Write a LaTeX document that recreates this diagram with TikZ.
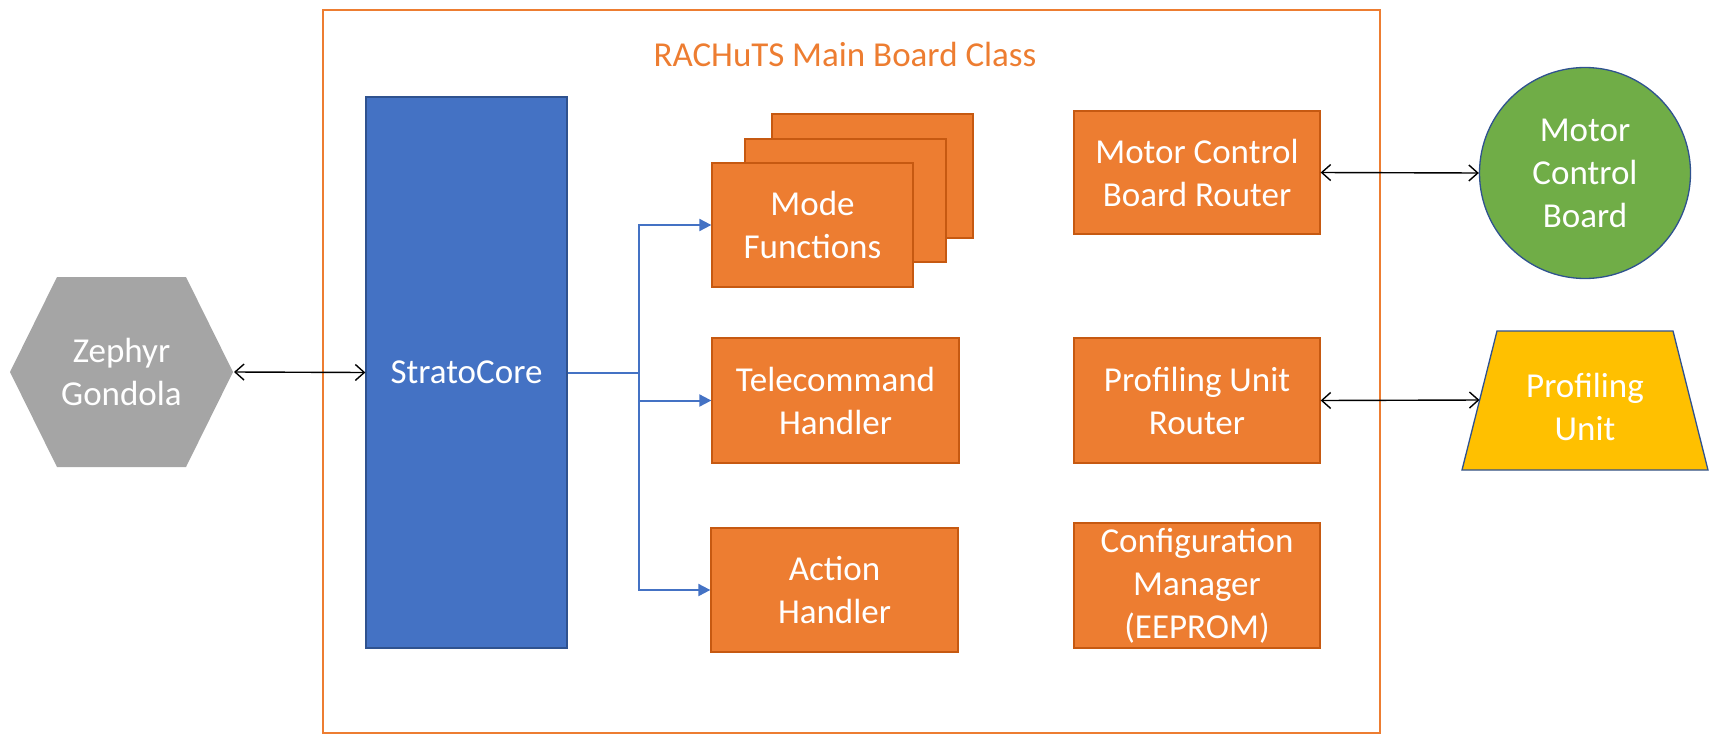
\documentclass[tikz,border=0pt]{standalone}
\usepackage{fontspec}
\setmainfont{Carlito}
\usetikzlibrary{arrows.meta}
\definecolor{oran}{HTML}{ED7D31}
\definecolor{oranD}{HTML}{C65911}
\definecolor{blu}{HTML}{4472C4}
\definecolor{bluD}{HTML}{2F528F}
\definecolor{gry}{HTML}{A5A5A5}
\definecolor{grn}{HTML}{70AD47}
\definecolor{yel}{HTML}{FFC000}
\tikzset{
  txt/.style={font=\fontsize{35}{43}\selectfont, text=white, align=center},
  obox/.style={txt, rectangle, fill=oran, draw=oranD, line width=1.3pt, minimum width=246pt, minimum height=124pt, inner sep=0pt},
  biarrow/.style={draw=black, line width=1.4pt, {Straight Barb[length=9pt,width=16pt]}-{Straight Barb[length=9pt,width=16pt]}},
  bluarrow/.style={draw=blu, line width=2pt, -{Triangle[length=12pt,width=12pt]}},
}
\begin{document}
\begin{tikzpicture}[x=1pt,y=-1pt]
\useasboundingbox (0,0) rectangle (1725,745);
% frame
\node[draw=oran, line width=1.6pt, minimum width=1057pt, minimum height=723pt, inner sep=0pt] (frame) at (851.5,371.5) {};
\node[font=\fontsize{35}{43}\selectfont, text=oran] (title) at (845,54) {RACHuTS Main Board Class};
% StratoCore
\node[txt, fill=blu, draw=bluD, line width=1.3pt, minimum width=201pt, minimum height=551pt, inner sep=0pt] (sc) at (466.5,372.5) {StratoCore};
% Zephyr hexagon
\fill[gry] (10,372) -- (57,277) -- (186,277) -- (233,372) -- (186,467) -- (57,467) -- cycle;
\node[txt, minimum width=223pt, minimum height=190pt] (zg) at (121.5,372) {Zephyr\\Gondola};
\coordinate (zgE) at (234,372);
% Mode functions stack
\node[obox, minimum width=201pt, minimum height=124pt] (mf3) at (872.5,176) {};
\node[obox, minimum width=201pt, minimum height=123pt] (mf2) at (845.5,200.5) {};
\node[obox, minimum width=201pt, minimum height=124pt] (mf) at (812.5,225) {Mode\\Functions};
% handlers
\node[obox, minimum width=247pt, minimum height=125pt] (tc) at (835.5,400.5) {Telecommand\\Handler};
\node[obox, minimum width=247pt, minimum height=124pt] (ah) at (834.5,590) {Action\\Handler};
% routers
\node[obox, minimum width=246pt, minimum height=123pt] (mcr) at (1197,172.5) {Motor Control\\Board Router};
\node[obox, minimum width=246pt, minimum height=125pt] (pur) at (1197,400.5) {Profiling Unit\\Router};
\node[obox, minimum width=246pt, minimum height=125pt] (cm) at (1197,585.5) {Configuration\\Manager\\(EEPROM)};
% motor control board
\node[txt, circle, fill=grn, draw=bluD, line width=1.3pt, minimum size=211pt, inner sep=0pt] (mcb) at (1585,173) {Motor\\Control\\Board};
% profiling unit trapezoid
\filldraw[fill=yel, draw=bluD, line width=1.3pt] (1497,331) -- (1673,331) -- (1708,470) -- (1462,470) -- cycle;
\node[txt] (pu) at (1585,407) {Profiling\\Unit};
\coordinate (puW) at (1479.5,400);
% connectors
\draw[biarrow] (zgE) -- (sc.west);
\draw[biarrow] (mcr.east) -- (mcb.west);
\draw[biarrow] (pur.east) -- (puW);
\coordinate (br) at (639,372.5);
\draw[draw=blu, line width=2pt] (sc.east) -- (br);
\draw[bluarrow] (br) |- (mf.west);
\draw[bluarrow] (br) |- (tc.west);
\draw[bluarrow] (br) |- (ah.west);
\end{tikzpicture}
\end{document}
